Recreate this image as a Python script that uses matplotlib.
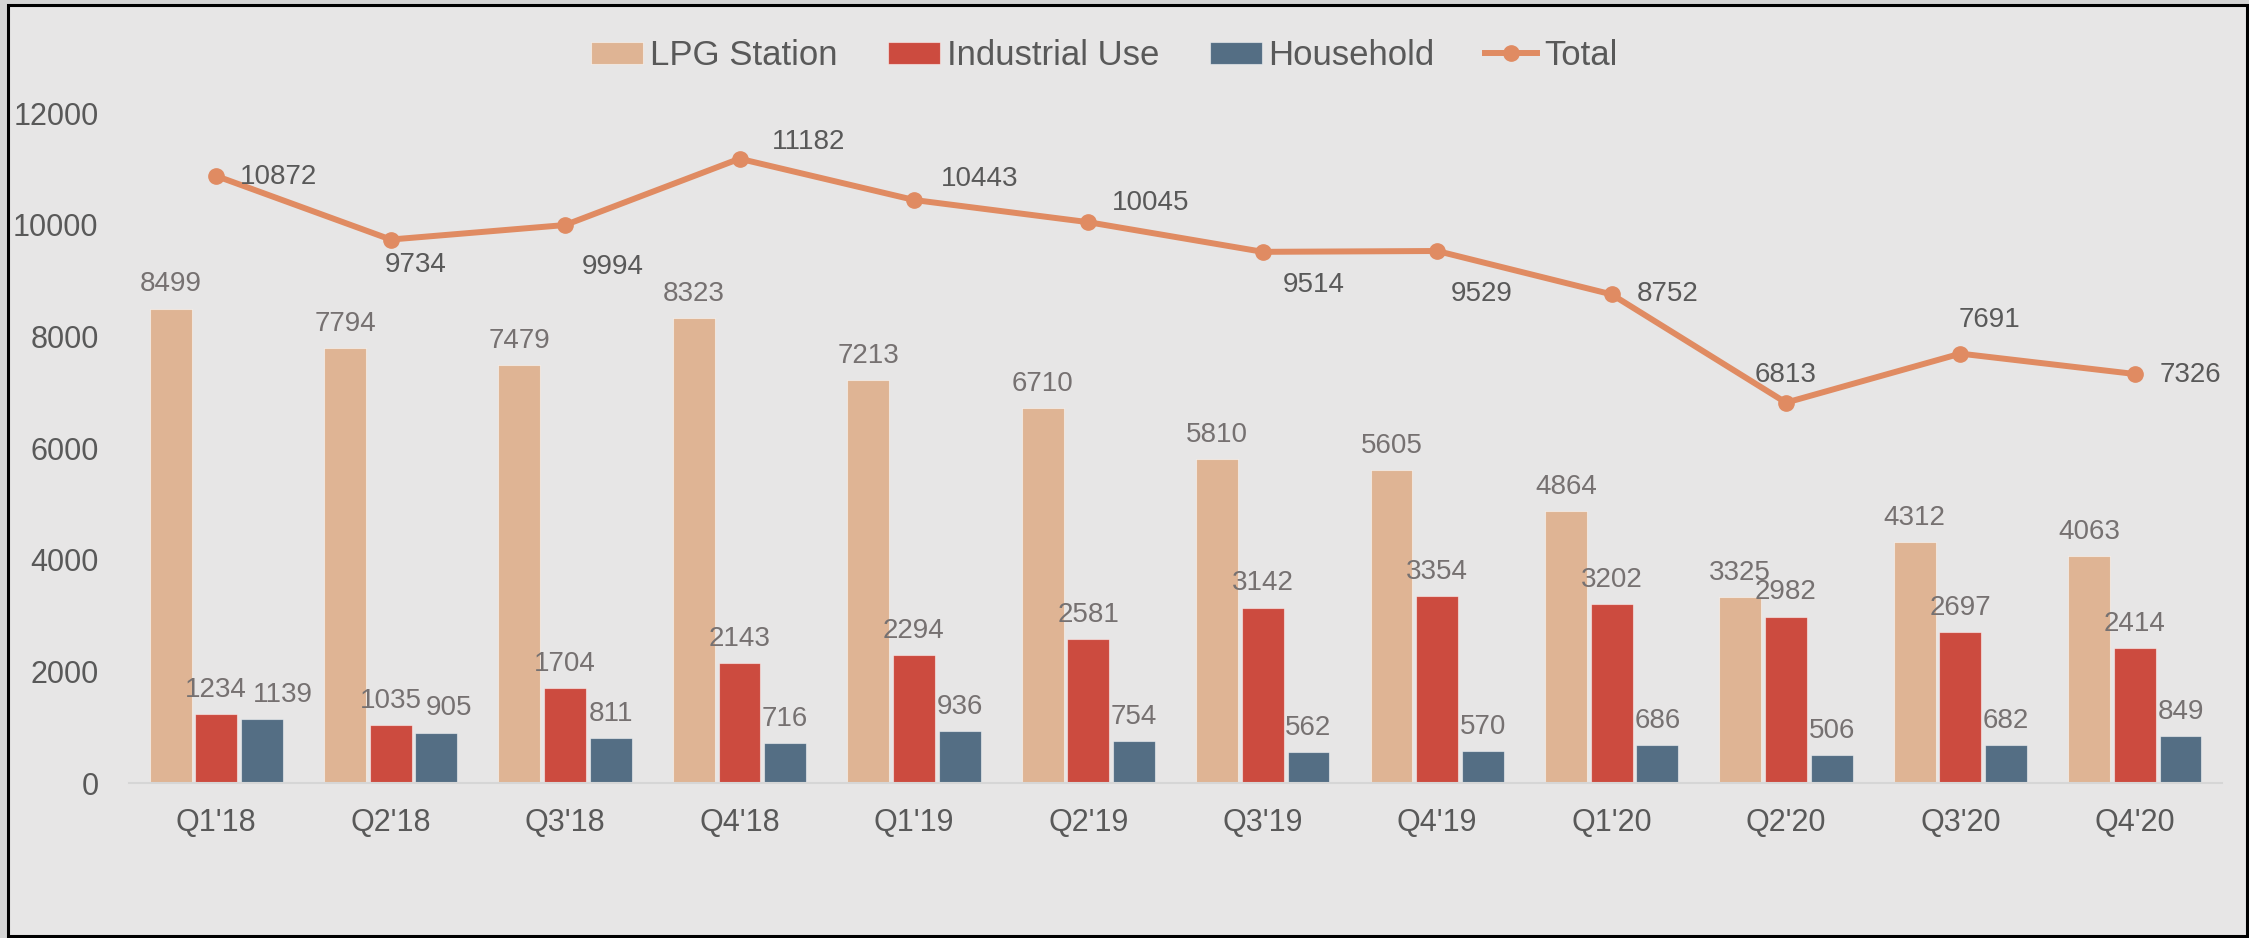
import matplotlib.pyplot as plt
import numpy as np
from matplotlib.patches import Rectangle

# Dane
quarters = ["Q1'18", "Q2'18", "Q3'18", "Q4'18", "Q1'19", "Q2'19",
            "Q3'19", "Q4'19", "Q1'20", "Q2'20", "Q3'20", "Q4'20"]
lpg_station = [8499, 7794, 7479, 8323, 7213, 6710, 5810, 5605, 4864, 3325, 4312, 4063]
industrial_use = [1234, 1035, 1704, 2143, 2294, 2581, 3142, 3354, 3202, 2982, 2697, 2414]
household = [1139, 905, 811, 716, 936, 754, 562, 570, 686, 506, 682, 849]
total = [10872, 9734, 9994, 11182, 10443, 10045, 9514, 9529, 8752, 6813, 7691, 7326]

# Przesunięcia etykiet linii (pt)
total_label_offsets = [(45, -1), (18, -18), (34, -30), (50, 12), (47, 15), (45, 14),
                       (37, -24), (32, -31), (40, 0), (0, 20), (21, 24), (40, -1)]
household_label_dx = [15, 9, 0, 0, 0, 0, 0, 0, 0, 0, 0, 0]

plt.rcParams['font.family'] = ['Liberation Sans', 'DejaVu Sans']

c_lpg = '#dfb494'
c_ind = '#cc4b3f'
c_house = '#546e84'
c_total = '#e08b62'
c_text = '#595959'
c_bar_text = '#767171'

fig = plt.figure(figsize=(22.49, 9.38), dpi=100)
fig.patch.set_facecolor('#d4d4d4')
fig.add_artist(Rectangle((0.0036, 0.0021), 0.9955, 0.9931, transform=fig.transFigure,
                         facecolor='#e7e6e6', edgecolor='black', lw=2.2, zorder=-1))

ax = fig.add_axes([0.0574, 0.1652, 0.9306, 0.7143])
ax.set_facecolor('none')

x = np.arange(len(quarters))
w = 0.24
step = 0.262
edge = (1, 1, 1, 0.5)
b1 = ax.bar(x - step, lpg_station, w, color=c_lpg, edgecolor=edge, lw=0.8, label='LPG Station')
b2 = ax.bar(x, industrial_use, w, color=c_ind, edgecolor=edge, lw=0.8, label='Industrial Use')
b3 = ax.bar(x + step, household, w, color=c_house, edgecolor=edge, lw=0.8, label='Household')
ln, = ax.plot(x, total, color=c_total, lw=4.3, marker='o', markersize=11, label='Total')

# Etykiety słupków
for bars, dxs in [(b1, None), (b2, None), (b3, household_label_dx)]:
    for i, b in enumerate(bars):
        dx = dxs[i] if dxs else 0
        ax.annotate(f"{int(b.get_height())}", (b.get_x() + b.get_width() / 2, b.get_height()),
                    xytext=(dx, 8), textcoords='offset points', ha='center', va='bottom',
                    fontsize=20, color=c_bar_text)

# Etykiety linii
for i, v in enumerate(total):
    dx, dy = total_label_offsets[i]
    ax.annotate(f"{v}", (x[i], v), xytext=(dx, dy), textcoords='offset points',
                ha='center', va='center', fontsize=20, color=c_text)

ax.set_xlim(-0.5, len(quarters) - 0.5)
ax.set_ylim(0, 12000)
ax.set_yticks(range(0, 12001, 2000))
ax.set_xticks(x)
ax.set_xticklabels(quarters)
ax.tick_params(axis='both', length=0, labelsize=22, labelcolor=c_text)
ax.tick_params(axis='y', pad=22)
ax.tick_params(axis='x', pad=18)
for s in ['top', 'right', 'left']:
    ax.spines[s].set_visible(False)
ax.spines['bottom'].set_color('#d6d6d6')
ax.spines['bottom'].set_linewidth(1.5)

leg = fig.legend(handles=[b1, b2, b3, ln], loc='center', bbox_to_anchor=(0.491, 0.941),
                 ncol=4, frameon=False, fontsize=25, handlelength=1.5, handleheight=0.6,
                 handletextpad=0.2, columnspacing=1.45, labelcolor=c_text)

plt.savefig('out.png', dpi=100, facecolor=fig.get_facecolor())
